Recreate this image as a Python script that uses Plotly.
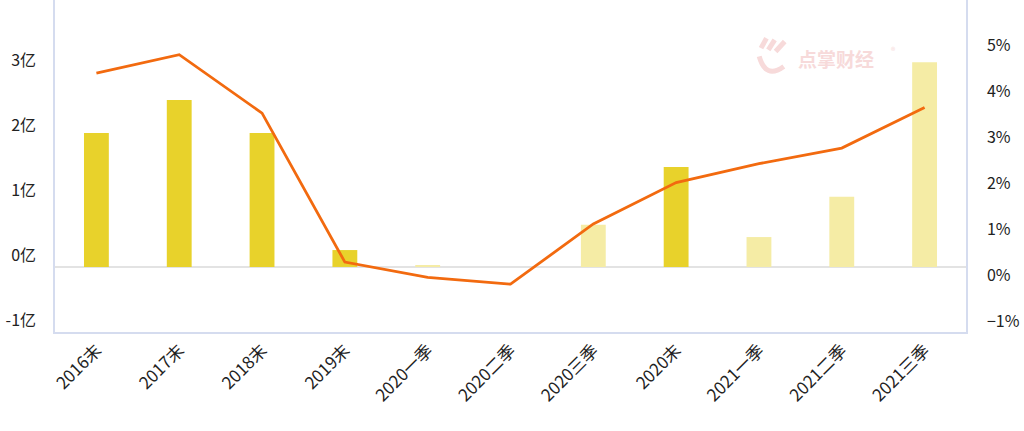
import plotly.graph_objects as go

categories = ["2016末", "2017末", "2018末", "2019末", "2020一季", "2020二季",
              "2020三季", "2020末", "2021一季", "2021二季", "2021三季"]
amount_yi = [2.06, 2.57, 2.06, 0.26, 0.02, 0.0, 0.65, 1.54, 0.46, 1.08, 3.15]
rate_pct = [4.39, 4.79, 3.52, 0.28, -0.05, -0.20, 1.11, 2.01, 2.42, 2.76, 3.64]
left_ticks = [-1, 0, 1, 2, 3]
left_labels = ["-1亿", "0亿", "1亿", "2亿", "3亿"]
right_ticks = [-1, 0, 1, 2, 3, 4, 5]
right_labels = ["−1%", "0%", "1%", "2%", "3%", "4%", "5%"]

DARK = "#e8d22b"
LIGHT = "#f5eca5"
bar_colors = [DARK if c.endswith("末") else LIGHT for c in categories]

font = "Noto Sans CJK SC"
axis_col = "#d5dcef"
wm = "#f7dada"

fig = go.Figure()
fig.add_trace(go.Bar(x=categories, y=amount_yi, marker_color=bar_colors,
                     marker_line_width=0, width=0.3, yaxis="y"))
fig.add_trace(go.Scatter(x=categories, y=rate_pct, mode="lines",
                         line=dict(color="#f26a0f", width=2.8), yaxis="y2"))

fig.update_layout(
    width=1024, height=431,
    margin=dict(l=55, r=58, t=0, b=99, autoexpand=False),
    plot_bgcolor="white", paper_bgcolor="white",
    showlegend=False,
    font=dict(family=font, size=16, color="#222"),
    xaxis=dict(tickangle=-45, showline=True, linecolor=axis_col, linewidth=1.5,
               mirror=False, ticks="", tickfont=dict(size=17, family=font)),
    yaxis=dict(range=[-1.001, 4.108], tickvals=left_ticks, ticktext=left_labels,
               showgrid=False, zeroline=True, zerolinecolor="#e3e3e3", zerolinewidth=1.5,
               showline=True, linecolor=axis_col, linewidth=1.5,
               ticklabelposition="outside top", ticklabelstandoff=14,
               tickfont=dict(size=16, family=font)),
    yaxis2=dict(range=[-1.24, 5.98], tickvals=right_ticks, ticktext=right_labels,
                overlaying="y", side="right", showgrid=False, zeroline=False,
                showline=True, linecolor=axis_col, linewidth=1.5,
                ticklabelstandoff=16, tickfont=dict(size=16, family=font)),
)

# watermark
fig.add_annotation(xref="paper", yref="paper", x=0.857, y=0.87, xanchor="center",
                   text="<b>点掌财经</b>", showarrow=False,
                   font=dict(size=19, color=wm, family=font))
fig.add_annotation(xref="paper", yref="paper", x=0.92, y=0.875, xanchor="center",
                   text="®", showarrow=False,
                   font=dict(size=9, color=wm, family=font))
for x0, y0, x1, y1 in [(0.775, 0.855, 0.781, 0.885), (0.783, 0.85, 0.79, 0.88),
                       (0.791, 0.845, 0.801, 0.875)]:
    fig.add_shape(type="line", xref="paper", yref="paper", x0=x0, y0=y0, x1=x1, y1=y1,
                  line=dict(color=wm, width=5))
fig.add_shape(type="path", xref="paper", yref="paper",
              path="M 0.773 0.83 Q 0.78 0.76 0.80 0.80",
              line=dict(color=wm, width=5))

fig.write_html("out.html", config={"displayModeBar": False},
               post_script="document.body.style.margin='0';")
